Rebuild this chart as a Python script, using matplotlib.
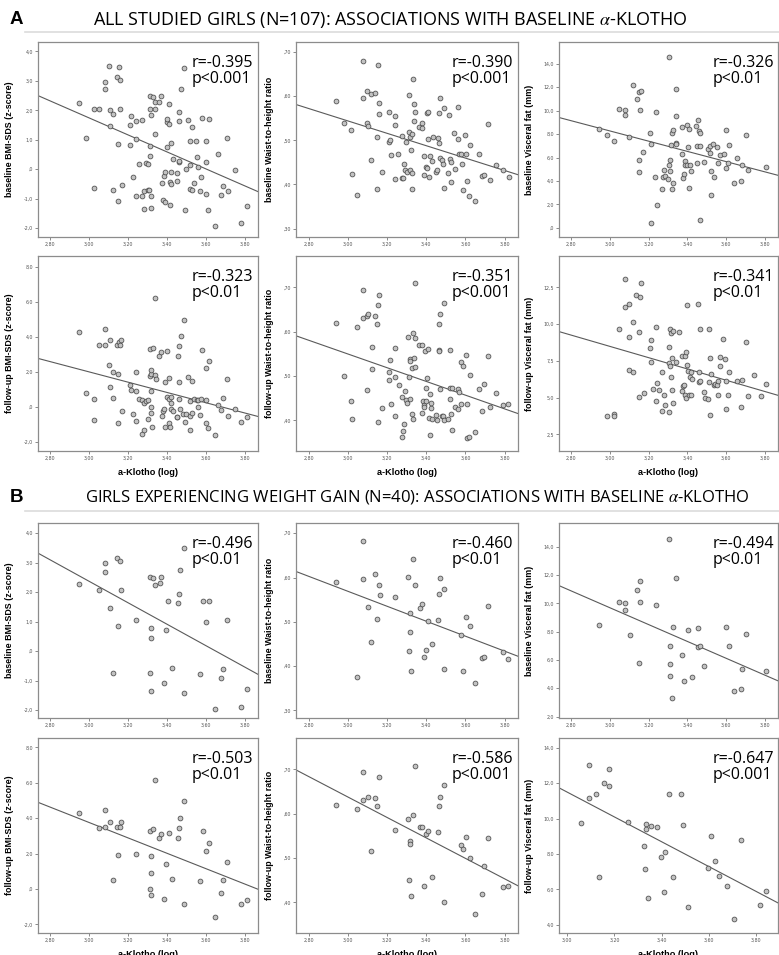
import numpy as np
import matplotlib
matplotlib.use('Agg')
import matplotlib.pyplot as plt
from matplotlib.lines import Line2D

plt.rcParams['mathtext.fontset'] = 'stix'

# ---- data: (a-Klotho log, outcome) per panel ----
a1_pts = [(2.945, 2.25), (2.985, 1.05), (3.022, 2.04), (3.048, 2.04), (3.024, -0.62), (3.079, 2.71), (3.080, 2.96),
          (3.099, 3.52), (3.104, 2.00), (3.106, 1.46), (3.120, 1.87), (3.120, -0.71), (3.140, 3.13), (3.150, 0.85),
          (3.150, -1.08), (3.155, 3.47), (3.160, 3.03), (3.160, 2.04), (3.170, -0.54), (3.210, 1.49), (3.210, 0.83),
          (3.215, 1.82), (3.224, -0.28), (3.240, 1.04), (3.240, 1.64), (3.240, -0.92), (3.258, 0.17), (3.270, 1.67),
          (3.270, -0.92), (3.280, -0.74), (3.280, -1.34), (3.290, 0.20), (3.300, 0.19), (3.300, -0.72), (3.308, -0.71),
          (3.310, 2.47), (3.310, 2.06), (3.310, 0.79), (3.310, 0.46), (3.320, 1.85), (3.320, -1.31), (3.320, -0.92),
          (3.330, 2.45), (3.340, 2.29), (3.340, 2.06), (3.340, 1.21), (3.360, 2.27), (3.370, 2.48), (3.376, -0.47),
          (3.380, -1.03), (3.386, -0.22), (3.390, -0.10), (3.390, -1.10), (3.400, 0.75), (3.400, 1.60), (3.400, 1.72),
          (3.410, 1.53), (3.410, 2.20), (3.415, -0.44), (3.415, -1.20), (3.420, 0.88), (3.420, -0.10), (3.420, -0.50),
          (3.430, 0.34), (3.450, -0.12), (3.450, -0.40), (3.460, 1.65), (3.460, 1.93), (3.460, 0.24), (3.463, 0.27),
          (3.470, 2.73), (3.487, 3.44), (3.490, -1.37), (3.500, 0.00), (3.510, 1.66), (3.516, 0.97), (3.520, 0.15),
          (3.520, -0.66), (3.530, 1.45), (3.530, -0.71), (3.540, -0.45), (3.550, 0.97), (3.555, 0.43), (3.560, 0.09),
          (3.570, -0.74), (3.574, -0.25), (3.580, 1.73), (3.600, 0.97), (3.600, 0.26), (3.600, -0.85), (3.610, -1.37),
          (3.617, 1.70), (3.645, -1.93), (3.660, 0.51), (3.677, -0.89), (3.687, -0.57), (3.707, 1.06), (3.716, -0.73),
          (3.750, -0.04), (3.780, -1.84), (3.810, -1.26)]

a2_pts = [(2.940, 0.589), (2.980, 0.540), (3.017, 0.523), (3.020, 0.424), (3.045, 0.376), (3.076, 0.680), (3.078, 0.597),
          (3.097, 0.611), (3.100, 0.539), (3.105, 0.532), (3.120, 0.604), (3.120, 0.455), (3.140, 0.608), (3.148, 0.507),
          (3.150, 0.390), (3.154, 0.671), (3.159, 0.584), (3.160, 0.559), (3.172, 0.428), (3.210, 0.564), (3.212, 0.497),
          (3.214, 0.501), (3.222, 0.466), (3.240, 0.556), (3.241, 0.535), (3.241, 0.413), (3.258, 0.469), (3.274, 0.509),
          (3.276, 0.414), (3.280, 0.414), (3.286, 0.447), (3.290, 0.433), (3.298, 0.497), (3.300, 0.428), (3.315, 0.433),
          (3.310, 0.602), (3.310, 0.520), (3.315, 0.508), (3.320, 0.478), (3.325, 0.515), (3.327, 0.390), (3.330, 0.426),
          (3.335, 0.639), (3.338, 0.545), (3.340, 0.582), (3.345, 0.564), (3.364, 0.530), (3.378, 0.540), (3.380, 0.527),
          (3.390, 0.464), (3.390, 0.422), (3.400, 0.440), (3.402, 0.437), (3.405, 0.561), (3.410, 0.565), (3.410, 0.502),
          (3.415, 0.418), (3.420, 0.464), (3.427, 0.453), (3.433, 0.508), (3.450, 0.428), (3.453, 0.432), (3.462, 0.506),
          (3.464, 0.495), (3.466, 0.563), (3.469, 0.461), (3.470, 0.597), (3.478, 0.455), (3.484, 0.447), (3.493, 0.574),
          (3.493, 0.393), (3.510, 0.426), (3.517, 0.558), (3.520, 0.458), (3.524, 0.450), (3.524, 0.406), (3.540, 0.517),
          (3.545, 0.435), (3.562, 0.576), (3.564, 0.504), (3.566, 0.469), (3.576, 0.470), (3.580, 0.447), (3.586, 0.388),
          (3.600, 0.512), (3.605, 0.469), (3.609, 0.409), (3.616, 0.374), (3.622, 0.490), (3.650, 0.362), (3.667, 0.469),
          (3.683, 0.419), (3.695, 0.422), (3.716, 0.536), (3.726, 0.411), (3.755, 0.444), (3.790, 0.433), (3.820, 0.418)]

a3_pts = [(2.943, 8.47), (2.982, 7.93), (3.018, 7.42), (3.044, 10.11), (3.075, 10.03), (3.077, 9.60), (3.100, 7.76),
          (3.120, 12.15), (3.137, 10.99), (3.147, 5.81), (3.150, 4.76), (3.152, 11.59), (3.159, 11.64), (3.156, 10.08),
          (3.170, 6.43), (3.207, 8.07), (3.209, 7.11), (3.212, 0.45), (3.233, 4.36), (3.236, 9.89), (3.240, 1.95),
          (3.270, 3.34), (3.272, 4.31), (3.280, 4.93), (3.285, 4.45), (3.298, 4.16), (3.305, 14.59), (3.307, 5.35),
          (3.309, 5.75), (3.312, 4.87), (3.314, 7.05), (3.319, 8.13), (3.320, 3.31), (3.324, 3.85), (3.326, 8.36),
          (3.340, 11.87), (3.340, 9.55), (3.340, 7.25), (3.341, 7.14), (3.372, 8.58), (3.372, 6.32), (3.376, 4.22),
          (3.380, 4.59), (3.388, 5.72), (3.388, 5.35), (3.398, 8.73), (3.400, 5.35), (3.405, 6.86), (3.410, 8.44),
          (3.410, 3.40), (3.415, 5.35), (3.420, 4.82), (3.443, 8.70), (3.448, 5.55), (3.450, 6.94), (3.456, 9.18),
          (3.458, 8.24), (3.463, 8.05), (3.463, 0.68), (3.467, 7.00), (3.487, 5.61), (3.504, 6.69), (3.515, 6.94),
          (3.516, 6.40), (3.520, 4.82), (3.520, 2.83), (3.530, 7.17), (3.537, 4.31), (3.554, 6.91), (3.558, 5.50),
          (3.570, 6.20), (3.589, 6.32), (3.597, 8.36), (3.600, 5.13), (3.608, 5.50), (3.613, 7.03), (3.640, 3.80),
          (3.657, 5.95), (3.676, 3.97), (3.683, 5.35), (3.702, 7.90), (3.712, 4.93), (3.807, 5.21)]

a4_pts = [(2.945, 4.28), (2.985, 0.79), (3.022, 0.47), (3.024, -0.72), (3.048, 3.51), (3.079, 3.51), (3.080, 4.47),
          (3.100, 2.38), (3.104, 1.15), (3.106, 3.81), (3.120, 0.53), (3.120, 2.02), (3.140, 3.51), (3.150, 1.91),
          (3.150, -0.91), (3.155, 3.70), (3.160, 3.53), (3.162, 3.81), (3.170, -0.25), (3.210, 1.28), (3.212, 0.98),
          (3.224, -0.40), (3.240, -0.77), (3.240, 2.02), (3.242, 0.89), (3.258, 0.47), (3.270, 0.38), (3.270, -1.51),
          (3.280, -1.28), (3.280, 0.26), (3.290, 0.36), (3.300, 0.38), (3.303, -0.66), (3.310, 3.28), (3.310, 1.75),
          (3.315, 0.00), (3.316, 0.91), (3.320, 1.89), (3.320, 2.09), (3.320, -0.32), (3.325, -1.15), (3.330, 3.38),
          (3.340, 6.23), (3.340, 1.83), (3.342, 1.62), (3.360, 2.91), (3.370, 3.13), (3.376, -0.51), (3.380, -0.23),
          (3.386, -0.09), (3.390, 1.45), (3.390, -1.13), (3.400, 0.57), (3.400, 3.17), (3.410, 0.47), (3.410, 1.68),
          (3.410, -0.89), (3.415, -1.15), (3.420, 0.26), (3.420, -0.13), (3.422, 0.60), (3.430, -0.23), (3.450, -0.58),
          (3.452, -0.55), (3.456, 2.91), (3.460, 3.49), (3.460, 1.45), (3.463, 0.47), (3.467, -0.13), (3.470, 4.02),
          (3.480, -0.40), (3.487, 4.94), (3.490, -0.85), (3.500, -0.40), (3.510, 1.72), (3.516, 0.36), (3.520, -1.32),
          (3.520, -0.49), (3.530, 1.47), (3.530, -0.36), (3.540, 0.47), (3.555, 0.38), (3.560, 0.02), (3.560, 0.43),
          (3.570, -0.43), (3.574, 0.47), (3.580, 3.25), (3.600, 2.25), (3.600, 0.38), (3.600, -0.92), (3.610, -1.17),
          (3.617, 2.60), (3.645, -1.58), (3.660, 0.09), (3.677, -0.19), (3.687, 0.51), (3.707, 1.57), (3.716, -0.53),
          (3.750, -0.09), (3.780, -0.83), (3.810, -0.58)]

a5_pts = [(2.941, 0.620), (2.981, 0.501), (3.017, 0.443), (3.021, 0.404), (3.045, 0.610), (3.076, 0.695), (3.078, 0.630),
          (3.097, 0.635), (3.103, 0.639), (3.100, 0.468), (3.121, 0.517), (3.121, 0.565), (3.140, 0.636), (3.148, 0.618),
          (3.152, 0.397), (3.154, 0.661), (3.159, 0.683), (3.172, 0.429), (3.210, 0.510), (3.212, 0.492), (3.214, 0.537),
          (3.222, 0.438), (3.240, 0.564), (3.241, 0.497), (3.241, 0.409), (3.259, 0.479), (3.274, 0.452), (3.276, 0.362),
          (3.283, 0.376), (3.286, 0.391), (3.290, 0.466), (3.298, 0.447), (3.303, 0.440), (3.309, 0.589), (3.312, 0.499),
          (3.316, 0.539), (3.316, 0.534), (3.319, 0.449), (3.326, 0.415), (3.328, 0.518), (3.331, 0.404), (3.334, 0.598),
          (3.338, 0.541), (3.343, 0.709), (3.345, 0.521), (3.345, 0.586), (3.364, 0.571), (3.378, 0.571), (3.378, 0.416),
          (3.384, 0.443), (3.388, 0.435), (3.390, 0.431), (3.395, 0.556), (3.398, 0.443), (3.400, 0.474), (3.405, 0.495),
          (3.410, 0.562), (3.416, 0.405), (3.419, 0.367), (3.421, 0.459), (3.422, 0.428), (3.424, 0.440), (3.429, 0.404),
          (3.450, 0.412), (3.453, 0.400), (3.464, 0.559), (3.466, 0.618), (3.467, 0.556), (3.470, 0.641), (3.470, 0.470),
          (3.478, 0.409), (3.484, 0.411), (3.493, 0.666), (3.493, 0.401), (3.510, 0.404), (3.520, 0.559), (3.522, 0.449),
          (3.520, 0.473), (3.528, 0.415), (3.533, 0.379), (3.534, 0.474), (3.545, 0.431), (3.562, 0.471), (3.564, 0.426),
          (3.566, 0.465), (3.576, 0.531), (3.579, 0.437), (3.588, 0.522), (3.605, 0.548), (3.609, 0.438), (3.610, 0.360),
          (3.617, 0.363), (3.622, 0.502), (3.650, 0.375), (3.667, 0.471), (3.684, 0.421), (3.695, 0.483), (3.716, 0.545),
          (3.726, 0.430), (3.755, 0.461), (3.791, 0.435), (3.819, 0.437)]

a6_pts = [(2.982, 3.74), (3.018, 3.90), (3.022, 3.77), (3.044, 9.69), (3.077, 11.14), (3.077, 13.04), (3.096, 9.11),
          (3.100, 11.35), (3.100, 6.89), (3.118, 10.15), (3.120, 6.73), (3.135, 12.00), (3.147, 5.01), (3.152, 9.47),
          (3.154, 11.84), (3.159, 12.82), (3.173, 5.28), (3.207, 8.38), (3.209, 8.93), (3.209, 7.41), (3.220, 5.58),
          (3.236, 9.81), (3.235, 4.76), (3.240, 5.96), (3.255, 5.51), (3.267, 4.08), (3.269, 6.71), (3.278, 5.21),
          (3.282, 4.47), (3.302, 4.03), (3.305, 8.45), (3.307, 7.32), (3.310, 7.16), (3.312, 9.67), (3.314, 9.38),
          (3.316, 6.41), (3.319, 7.66), (3.320, 5.53), (3.326, 4.63), (3.327, 9.56), (3.340, 7.39), (3.358, 9.49),
          (3.370, 5.46), (3.370, 7.84), (3.376, 5.78), (3.380, 5.89), (3.386, 7.86), (3.390, 8.11), (3.386, 5.19),
          (3.391, 4.94), (3.400, 7.21), (3.400, 11.32), (3.404, 6.80), (3.410, 5.21), (3.415, 6.41), (3.417, 5.15),
          (3.419, 6.73), (3.422, 6.30), (3.456, 11.37), (3.461, 6.73), (3.461, 6.05), (3.465, 9.67), (3.465, 6.12),
          (3.484, 5.40), (3.489, 4.99), (3.506, 4.88), (3.513, 9.65), (3.513, 6.07), (3.515, 3.79), (3.518, 7.70),
          (3.522, 6.62), (3.535, 5.89), (3.544, 5.94), (3.554, 5.87), (3.558, 6.10), (3.560, 5.15), (3.568, 7.79),
          (3.570, 7.18), (3.582, 8.99), (3.596, 7.61), (3.597, 6.10), (3.600, 4.22), (3.608, 5.15), (3.613, 6.73),
          (3.656, 6.10), (3.676, 4.36), (3.683, 6.19), (3.702, 8.77), (3.712, 5.10), (3.745, 6.53), (3.780, 5.10),
          (3.807, 5.94)]

b1_pts = [(2.945, 2.26), (3.048, 2.07), (3.079, 2.98), (3.080, 2.67), (3.106, 1.46), (3.120, -0.74), (3.140, 3.17),
          (3.150, 0.86), (3.160, 3.06), (3.162, 2.07), (3.240, 1.05), (3.310, 2.50), (3.316, 0.77), (3.316, 0.45),
          (3.310, -0.73), (3.320, -1.35), (3.330, 2.46), (3.340, 2.24), (3.362, 2.29), (3.370, 2.51), (3.386, -1.09),
          (3.395, 0.72), (3.407, 1.71), (3.426, -0.56), (3.458, 1.62), (3.460, 1.94), (3.467, 2.75), (3.489, 3.49),
          (3.489, -1.41), (3.571, -0.78), (3.583, 1.71), (3.600, 0.98), (3.617, 1.70), (3.645, -1.98), (3.677, -0.93),
          (3.687, -0.62), (3.708, 1.05), (3.781, -1.90), (3.810, -1.30)]

b2_pts = [(2.941, 0.590), (3.045, 0.376), (3.076, 0.683), (3.078, 0.597), (3.103, 0.534), (3.140, 0.609), (3.148, 0.507),
          (3.119, 0.454), (3.159, 0.584), (3.162, 0.560), (3.241, 0.557), (3.309, 0.602), (3.319, 0.520), (3.319, 0.477),
          (3.314, 0.434), (3.323, 0.389), (3.334, 0.641), (3.343, 0.584), (3.366, 0.531), (3.378, 0.541), (3.390, 0.420),
          (3.398, 0.436), (3.410, 0.501), (3.430, 0.451), (3.462, 0.505), (3.464, 0.563), (3.470, 0.599), (3.493, 0.575),
          (3.493, 0.393), (3.576, 0.470), (3.590, 0.388), (3.605, 0.512), (3.624, 0.491), (3.650, 0.362), (3.684, 0.419),
          (3.695, 0.420), (3.716, 0.536), (3.791, 0.433), (3.819, 0.417)]

b3_pts = [(2.943, 8.47), (3.044, 10.09), (3.077, 10.00), (3.077, 9.55), (3.102, 7.74), (3.137, 10.96), (3.147, 5.79),
          (3.157, 11.58), (3.156, 10.07), (3.238, 9.86), (3.305, 14.54), (3.312, 7.01), (3.312, 5.72), (3.309, 4.87),
          (3.320, 3.29), (3.327, 8.35), (3.340, 11.81), (3.372, 6.35), (3.384, 4.54), (3.405, 8.12), (3.422, 4.78),
          (3.456, 8.24), (3.455, 6.89), (3.465, 6.99), (3.487, 5.58), (3.597, 8.33), (3.613, 7.01), (3.642, 3.79),
          (3.676, 3.98), (3.683, 5.34), (3.704, 7.86), (3.807, 5.20)]

b4_pts = [(2.945, 4.28), (3.048, 3.47), (3.079, 4.47), (3.080, 3.51), (3.106, 3.81), (3.120, 0.53), (3.140, 3.49),
          (3.150, 1.89), (3.160, 3.49), (3.162, 3.79), (3.240, 2.00), (3.310, 3.28), (3.316, 1.87), (3.316, 0.89),
          (3.310, 0.00), (3.320, -0.32), (3.330, 3.36), (3.340, 6.17), (3.360, 2.87), (3.370, 3.13), (3.386, -0.55),
          (3.395, 1.42), (3.408, 3.15), (3.426, 0.57), (3.458, 2.89), (3.460, 3.47), (3.468, 4.00), (3.489, 4.96),
          (3.489, -0.85), (3.569, 0.45), (3.583, 3.25), (3.600, 2.15), (3.617, 2.58), (3.645, -1.60), (3.677, -0.23),
          (3.687, 0.49), (3.708, 1.55), (3.781, -0.85), (3.810, -0.60)]

b5_pts = [(2.941, 0.619), (3.045, 0.610), (3.076, 0.695), (3.078, 0.630), (3.103, 0.638), (3.119, 0.516), (3.140, 0.635),
          (3.148, 0.618), (3.159, 0.683), (3.241, 0.563), (3.309, 0.589), (3.314, 0.450), (3.319, 0.538), (3.319, 0.531),
          (3.323, 0.414), (3.334, 0.598), (3.343, 0.708), (3.366, 0.570), (3.378, 0.570), (3.390, 0.437), (3.398, 0.555),
          (3.410, 0.562), (3.430, 0.457), (3.462, 0.559), (3.464, 0.617), (3.470, 0.639), (3.493, 0.665), (3.493, 0.400),
          (3.576, 0.530), (3.590, 0.521), (3.605, 0.547), (3.624, 0.501), (3.650, 0.374), (3.684, 0.420), (3.695, 0.482),
          (3.716, 0.546), (3.791, 0.434), (3.819, 0.436)]

b6_pts = [(3.059, 9.72), (3.092, 13.02), (3.092, 11.15), (3.121, 11.36), (3.135, 6.72), (3.156, 12.00), (3.175, 12.81),
          (3.175, 11.83), (3.258, 9.79), (3.327, 8.43), (3.331, 7.15), (3.335, 9.70), (3.335, 9.40), (3.344, 5.53),
          (3.353, 9.58), (3.382, 9.51), (3.396, 7.81), (3.408, 5.87), (3.416, 8.13), (3.430, 11.36), (3.449, 6.68),
          (3.482, 11.38), (3.489, 9.62), (3.513, 4.98), (3.597, 7.19), (3.609, 9.00), (3.626, 7.60), (3.645, 6.74),
          (3.677, 6.21), (3.708, 4.34), (3.735, 8.81), (3.815, 5.11), (3.843, 5.92)]

# fitted lines as drawn (slope, intercept)
a_fits = [(-2.88, 10.38), (-0.1406, 0.966), (-4.35, 21.31), (-2.92, 10.76), (-0.155, 1.015), (-3.83, 19.97)]
b_fits = [(-3.63, 13.25), (-0.169, 1.076), (-5.94, 27.50), (-4.34, 16.77), (-0.231, 1.331), (-7.01, 32.52)]

a_r = ['r=-0.395', 'r=-0.390', 'r=-0.326', 'r=-0.323', 'r=-0.351', 'r=-0.341']
a_p = ['p<0.001', 'p<0.001', 'p<0.01', 'p<0.01', 'p<0.001', 'p<0.01']
b_r = ['r=-0.496', 'r=-0.460', 'r=-0.494', 'r=-0.503', 'r=-0.586', 'r=-0.647']
b_p = ['p<0.01', 'p<0.01', 'p<0.01', 'p<0.01', 'p<0.001', 'p<0.001']

ylabels = ['baseline BMI-SDS (z-score)', 'baseline Waist-to-height ratio', 'baseline Visceral fat (mm)',
           'follow-up BMI-SDS (z-score)', 'follow-up Waist-to-height ratio', 'follow-up Visceral fat (mm)']

x_ticks = [2.8, 3.0, 3.2, 3.4, 3.6, 3.8]
x_ticks_b6 = [3.0, 3.2, 3.4, 3.6, 3.8]
a_yticks = [[-2, -1, 0, 1, 2, 3, 4], [0.3, 0.4, 0.5, 0.6, 0.7], [0, 2, 4, 6, 8, 10, 12, 14],
            [-2, 0, 2, 4, 6, 8], [0.4, 0.5, 0.6, 0.7], [2.5, 5.0, 7.5, 10.0, 12.5]]
b_yticks = [[-2, -1, 0, 1, 2, 3, 4], [0.3, 0.4, 0.5, 0.6, 0.7], [2, 4, 6, 8, 10, 12, 14],
            [-2, 0, 2, 4, 6, 8], [0.4, 0.5, 0.6, 0.7], [4, 6, 8, 10, 12, 14]]
y_decimals = [1, 2, 1, 1, 2, 1]

title_a = r'ALL STUDIED GIRLS (N=107): ASSOCIATIONS WITH BASELINE $\alpha$-KLOTHO'
title_b = r'GIRLS EXPERIENCING WEIGHT GAIN (N=40): ASSOCIATIONS WITH BASELINE $\alpha$-KLOTHO'

# ---- layout (pixels of the 779x955 canvas) ----
W, H = 779, 955
col_left = [38, 296, 559]
col_width = [220, 222, 219]
row_top = [42, 256, 523, 738]
row_height = 195

a_ylims = [(-2.3, 4.32), (0.281, 0.723), (-0.77, 15.84), (-2.5, 8.6), (0.331, 0.771), (1.37, 14.63)]
b_ylims = [(-2.27, 4.34), (0.283, 0.723), (1.9, 15.67), (-2.49, 8.53), (0.331, 0.771), (3.53, 14.55)]
xlim_std = (2.736, 3.868)
xlim_b6 = (2.965, 3.893)


def spss_fmt(v, nd):
    s = f'{v:.{nd}f}'.replace('.', ',')
    if s.startswith('0,'):
        s = s[1:]
    elif s.startswith('-0,'):
        s = '-' + s[2:]
    return s


def draw_panel(ax, pts, fit, ylabel, yticks, ydec, ylim, xticks, xlim, r_txt, p_txt, show_xlabel):
    pts = np.array(pts)
    x, y = pts[:, 0], pts[:, 1]
    ax.scatter(x, y, s=12, facecolor='#c2c2c2', edgecolor='#4a4a4a', linewidth=0.55, zorder=3)
    xs = np.array(xlim)
    ax.plot(xs, fit[0] * xs + fit[1], color='#5a5a5a', lw=0.8, zorder=2)

    ax.set_xlim(xlim)
    ax.set_ylim(ylim)
    ax.set_xticks(xticks)
    ax.set_xticklabels([spss_fmt(t, 2) for t in xticks])
    ax.set_yticks(yticks)
    ax.set_yticklabels([spss_fmt(t, ydec) for t in yticks])
    ax.tick_params(direction='out', length=2, width=0.6, color='#777777',
                   labelsize=3.4, labelcolor='#555555', pad=1.5)
    for sp in ax.spines.values():
        sp.set_color('#8c8c8c')
        sp.set_linewidth(0.9)

    ax.set_ylabel(ylabel, fontsize=6.4, fontweight='bold', family='Liberation Sans', labelpad=7)
    if show_xlabel:
        ax.set_xlabel('a-Klotho (log)', fontsize=6.6, fontweight='bold', family='Liberation Sans', labelpad=5)

    ax.text(0.70, 0.935, r_txt + '\n' + p_txt, transform=ax.transAxes, ha='left', va='top',
            fontsize=11.5, family='Open Sans', linespacing=1.05)


fig = plt.figure(figsize=(W / 100, H / 100), dpi=100)

all_pts = [[a1_pts, a2_pts, a3_pts, a4_pts, a5_pts, a6_pts],
           [b1_pts, b2_pts, b3_pts, b4_pts, b5_pts, b6_pts]]
fits = [a_fits, b_fits]
rs = [a_r, b_r]
ps = [a_p, b_p]
yticks_all = [a_yticks, b_yticks]
ylims_all = [a_ylims, b_ylims]

for block in range(2):
    for i in range(6):
        r = block * 2 + i // 3
        c = i % 3
        left = col_left[c] / W
        bottom = 1 - (row_top[r] + row_height) / H
        ax = fig.add_axes([left, bottom, col_width[c] / W, row_height / H])
        is_b6 = (block == 1 and i == 5)
        draw_panel(ax, all_pts[block][i], fits[block][i], ylabels[i],
                   yticks_all[block][i], y_decimals[i], ylims_all[block][i],
                   x_ticks_b6 if is_b6 else x_ticks,
                   xlim_b6 if is_b6 else xlim_std,
                   rs[block][i], ps[block][i], show_xlabel=(i >= 3))

# section headers: letter, title text, title left edge, y, separator y, title size
for letter, title, x_px, y_px, line_px, tsize in [('A', title_a, 93, 20, 32, 13),
                                                   ('B', title_b, 85, 497, 511, 12)]:
    fig.text(10 / W, 1 - y_px / H, letter, fontsize=13.5, fontweight='bold',
             family='Liberation Sans', va='center', ha='left')
    fig.text(x_px / W, 1 - y_px / H, title, fontsize=tsize, family='Open Sans', va='center', ha='left')
    fig.add_artist(Line2D([25 / W, 1.0], [1 - line_px / H] * 2, transform=fig.transFigure,
                          color='#dcdcdc', lw=1.2))

fig.savefig('out.png', dpi=100)
